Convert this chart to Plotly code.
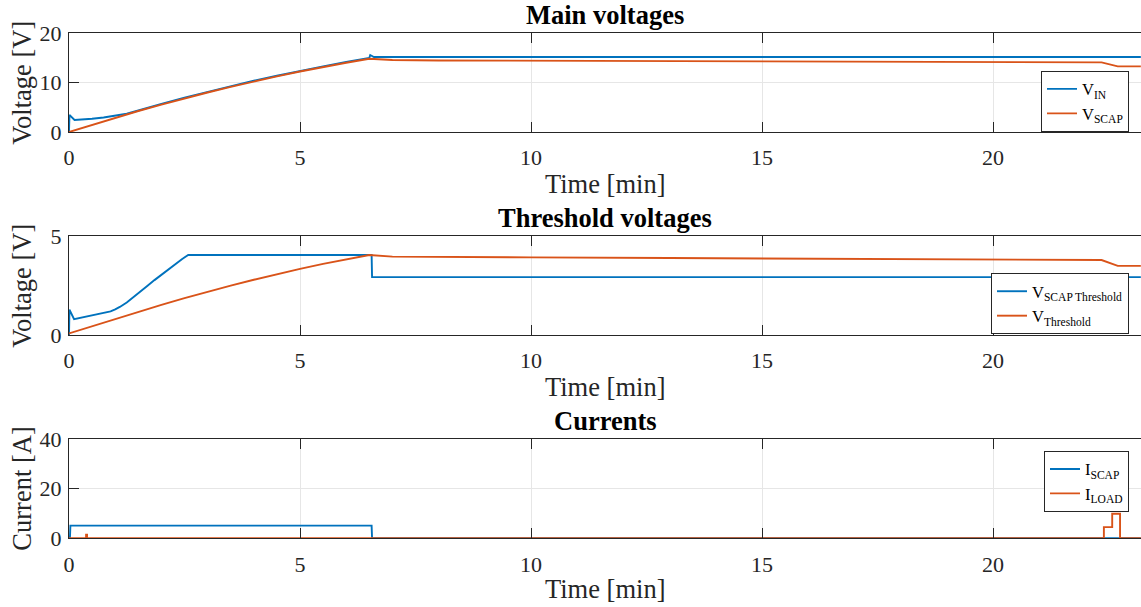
import plotly.graph_objects as go

# ---------------- data ----------------
# Main voltages
t_vin = [0, 0.01, 0.12, 0.25, 0.5, 0.75, 1.0, 1.25, 1.5, 1.75, 2.0, 2.5, 3.0, 3.5, 4.0, 4.5, 5.0, 5.5, 6.0, 6.5, 6.52, 6.6, 10, 15, 20, 23.2]
v_in = [0, 3.45, 2.45, 2.5, 2.7, 2.95, 3.25, 3.7, 4.35, 4.95, 5.7, 6.95, 8.15, 9.3, 10.4, 11.4, 12.4, 13.3, 14.2, 15.0, 15.6, 15.2, 15.2, 15.2, 15.2, 15.2]

t_vscap = [0, 0.5, 1, 1.5, 2, 2.5, 3, 3.5, 4, 4.5, 5, 5.5, 6, 6.5, 7, 8, 10, 13, 16, 19, 22.35, 22.7, 23.2]
v_scap = [0, 1.47, 2.89, 4.25, 5.56, 6.81, 8.01, 9.15, 10.24, 11.27, 12.25, 13.17, 14.04, 14.85, 14.6, 14.5, 14.45, 14.4, 14.3, 14.2, 14.1, 13.3, 13.3]

# Threshold voltages
t_vscap_thr = [0, 0.01, 0.11, 0.3, 0.5, 0.7, 0.9, 1.0, 1.1, 1.25, 1.4, 1.55, 1.7, 1.85, 2.0, 2.15, 2.3, 2.45, 2.58, 6.55, 6.56, 23.2]
v_scap_thr = [0, 1.28, 0.8, 0.9, 1.0, 1.08, 1.2, 1.3, 1.42, 1.65, 1.95, 2.22, 2.5, 2.78, 3.05, 3.32, 3.6, 3.85, 4.05, 4.05, 2.93, 2.93]

t_thr = [0, 0.5, 1, 1.5, 2, 2.5, 3, 3.5, 4, 4.5, 5, 5.5, 6, 6.5, 7, 8, 10, 13, 16, 19, 22.35, 22.7, 23.2]
v_thr = [0.08, 0.45, 0.82, 1.18, 1.53, 1.87, 2.2, 2.5, 2.8, 3.08, 3.35, 3.6, 3.84, 4.05, 3.97, 3.95, 3.93, 3.9, 3.87, 3.84, 3.8, 3.5, 3.5]

# Currents
t_iscap = [0, 0.02, 0.03, 6.55, 6.56, 22.4, 22.41, 22.75, 22.76, 23.2]
i_scap = [0, 0, 5.1, 5.1, 0, 0, -0.3, -0.3, 0, 0]

t_iload = [0, 0.37, 0.37, 0.39, 0.39, 22.4, 22.4, 22.58, 22.58, 22.75, 22.75, 23.2]
i_load = [0, 0, 1.5, 1.5, 0, 0, 4.5, 4.5, 9.9, 9.9, 0, 0]

x_ticks = [0, 5, 10, 15, 20]
y1_ticks = [0, 10, 20]
y2_ticks = [0, 5]
y3_ticks = [0, 20, 40]

titles = ["Main voltages", "Threshold voltages", "Currents"]
y_titles = ["Voltage [V]", "Voltage [V]", "Current [A]"]
x_title = "Time [min]"

# ---------------- style ----------------
BLUE = "#0072BD"
ORANGE = "#D95319"
FONT = "Liberation Serif"
AX = "#262626"
W, H = 1141, 607
L = 69

def py(p):
    return (H - p) / H

def px(p):
    return (p - L) / (W - L)

doms = [(py(132), py(33.3)), (py(335), py(236.3)), (py(538.3), py(439))]
ranges = [[0, 20], [0, 5], [0, 40]]
yticks = [y1_ticks, y2_ticks, y3_ticks]
xr = [0, (W - L) / 46.2]

fig = go.Figure()
lw = 1.9
fig.add_trace(go.Scatter(x=t_vin, y=v_in, mode="lines", line=dict(color=BLUE, width=lw),
                         name="V<sub>IN</sub>", xaxis="x", yaxis="y", legend="legend"))
fig.add_trace(go.Scatter(x=t_vscap, y=v_scap, mode="lines", line=dict(color=ORANGE, width=lw),
                         name="V<sub>SCAP</sub>", xaxis="x", yaxis="y", legend="legend"))
fig.add_trace(go.Scatter(x=t_vscap_thr, y=v_scap_thr, mode="lines", line=dict(color=BLUE, width=lw),
                         name="V<sub>SCAP Threshold</sub>", xaxis="x2", yaxis="y2", legend="legend2"))
fig.add_trace(go.Scatter(x=t_thr, y=v_thr, mode="lines", line=dict(color=ORANGE, width=lw),
                         name="V<sub>Threshold</sub>", xaxis="x2", yaxis="y2", legend="legend2"))
fig.add_trace(go.Scatter(x=t_iscap, y=i_scap, mode="lines", line=dict(color=BLUE, width=lw),
                         name="I<sub>SCAP</sub>", xaxis="x3", yaxis="y3", legend="legend3"))
fig.add_trace(go.Scatter(x=t_iload, y=i_load, mode="lines", line=dict(color=ORANGE, width=lw),
                         name="I<sub>LOAD</sub>", xaxis="x3", yaxis="y3", legend="legend3"))

layout = dict(
    width=W, height=H,
    margin=dict(l=L, r=0, t=0, b=0, pad=0, autoexpand=False),
    plot_bgcolor="white", paper_bgcolor="white",
    font=dict(family=FONT, color=AX, size=22),
    showlegend=True,
)

for k in range(3):
    sx = "" if k == 0 else str(k + 1)
    layout["xaxis" + sx] = dict(
        domain=[0, 1], anchor="y" + sx, range=xr, tickvals=x_ticks, automargin=False,
        showline=True, linecolor=AX, linewidth=1, mirror="allticks",
        ticks="inside", ticklen=10, tickcolor=AX, tickwidth=1,
        showgrid=True, gridcolor="#e6e6e6", gridwidth=1, zeroline=False,
        tickfont=dict(family=FONT, size=22, color=AX), ticklabelstandoff=6,
    )
    layout["yaxis" + sx] = dict(
        domain=list(doms[k]), anchor="x" + sx, range=ranges[k], tickvals=yticks[k], automargin=False,
        showline=True, linecolor=AX, linewidth=1, mirror=False,
        ticks="inside", ticklen=10, tickcolor=AX, tickwidth=1,
        showgrid=True, gridcolor="#e6e6e6", gridwidth=1, zeroline=False,
        tickfont=dict(family=FONT, size=22, color=AX), ticklabelstandoff=2,
    )

leg_common = dict(bgcolor="white", bordercolor=AX, borderwidth=1,
                  font=dict(family=FONT, size=16.5, color="black"),
                  xanchor="right", yanchor="top", tracegroupgap=0, itemwidth=30)
layout["legend"] = dict(leg_common, x=px(1129), y=py(70.7))
layout["legend2"] = dict(leg_common, x=px(1129), y=py(273))
layout["legend3"] = dict(leg_common, x=px(1129), y=py(450.7))

ann = []
title_y = [15, 218, 421]
xt_y = [184, 387, 589]
for k in range(3):
    ann.append(dict(text="<b>" + titles[k] + "</b>", x=0.5, y=py(title_y[k]), xref="paper", yref="paper",
                    showarrow=False, xanchor="center", yanchor="middle",
                    font=dict(family=FONT, size=26.5, color="black")))
    ann.append(dict(text=x_title, x=0.5, y=py(xt_y[k]), xref="paper", yref="paper",
                    showarrow=False, xanchor="center", yanchor="middle",
                    font=dict(family=FONT, size=26.5, color=AX)))
    yc = (doms[k][0] + doms[k][1]) / 2
    ann.append(dict(text=y_titles[k], x=px(22), y=yc, xref="paper", yref="paper",
                    showarrow=False, xanchor="center", yanchor="middle", textangle=-90,
                    font=dict(family=FONT, size=26.5, color=AX)))
layout["annotations"] = ann

fig.update_layout(**layout)
fig.write_html("out.html")
